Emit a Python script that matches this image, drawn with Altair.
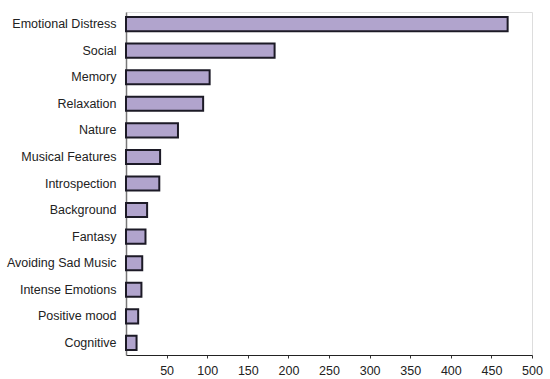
import altair as alt
import pandas as pd

categories = ["Emotional Distress", "Social", "Memory", "Relaxation", "Nature",
              "Musical Features", "Introspection", "Background", "Fantasy",
              "Avoiding Sad Music", "Intense Emotions", "Positive mood", "Cognitive"]
counts = [470, 183, 103, 95, 64, 42, 41, 26, 24, 20, 19, 15, 13]
tick_values = [50, 100, 150, 200, 250, 300, 350, 400, 450, 500]

df = pd.DataFrame({"category": categories, "count": counts})

chart = alt.Chart(df).mark_bar(
    color="#b1a4cd", stroke="#1c1a26", strokeWidth=2
).encode(
    y=alt.Y("category:N", sort=categories,
            scale=alt.Scale(paddingInner=0.47, paddingOuter=0.19),
            axis=alt.Axis(title=None, ticks=False, labelPadding=10,
                          labelFont="Liberation Sans", labelFontSize=12.5,
                          labelColor="#222222", domainColor="#777777",
                          domainWidth=1.5, labelLimit=200)),
    x=alt.X("count:Q", scale=alt.Scale(domain=[0, 500], nice=False, zero=True),
            axis=alt.Axis(title=None, values=tick_values, grid=False,
                          tickSize=3, tickColor="#333333", labelPadding=6,
                          labelFont="Liberation Sans", labelFontSize=12.5,
                          labelColor="#222222", domainColor="#222222",
                          domainWidth=1.2, labelFlush=False)),
).properties(
    width=406, height=343,
    autosize=alt.AutoSizeParams(type="none"),
    padding={"left": 126, "top": 12, "right": 12, "bottom": 24},
).configure_view(stroke=None).configure(background="white")

chart.save("out.html", embed_options={"renderer": "svg", "actions": False})
